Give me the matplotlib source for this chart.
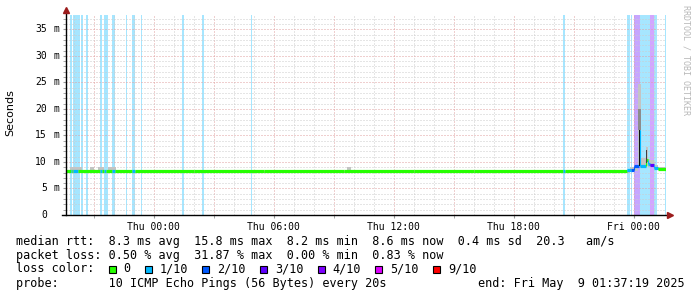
import matplotlib
matplotlib.use('Agg')
import matplotlib.pyplot as plt
import matplotlib.transforms as mtransforms
from matplotlib.patches import Rectangle

# smokeping graph, 30 hours, time in hours relative to Thu 00:00
t_start, t_end = -4.38, 25.62
y_top = 37.7

loss_colors = {0: '#26ff00', 1: '#00b8ff', 2: '#0059ff', 3: '#5e00ff',
               4: '#7e00ff', 5: '#dd00ff', 9: '#ff0000'}
legend_levels = [0, 1, 2, 3, 4, 5, 9]
legend_labels = ['0', '1/10', '2/10', '3/10', '4/10', '5/10', '9/10']

xtick_pos = [0, 6, 12, 18, 24]
xtick_labels = ['Thu 00:00', 'Thu 06:00', 'Thu 12:00', 'Thu 18:00', 'Fri 00:00']
ytick_pos = [0, 5, 10, 15, 20, 25, 30, 35]

# periods with packet loss (shaded full height)
loss_from = [-4.16, -4.02, -3.77, -3.61, -3.37, -2.69, -2.49, -2.36, -2.07, -1.40,
             -1.10, -0.64, 1.43, 2.43, 4.85, 20.45, 23.68, 23.85, 24.02, 24.10,
             24.30, 24.60, 24.80, 25.00, 25.57]
loss_to = [-4.08, -3.78, -3.70, -3.54, -3.30, -2.58, -2.38, -2.29, -1.93, -1.33,
           -0.92, -0.57, 1.50, 2.50, 4.92, 20.55, 23.80, 23.91, 24.10, 24.30,
           24.60, 24.80, 25.00, 25.15, 25.64]
loss_lvl = [1, 1, 1, 1, 1, 1, 1, 1, 1, 1,
            1, 1, 1, 1, 1, 1, 1, 1, 3, 3,
            1, 1, 4, 1, 1]

# median rtt (ms), step segments starting at med_t
med_t = [-4.38, -4.15, -4.07, -4.02, -3.78, -2.69, -2.58, -2.49, -2.38, -2.07,
         -1.93, -1.10, -0.92, 2.0, 5.5, 9.5, 13.0, 16.0, 20.45, 20.55,
         23.68, 23.85, 24.02, 24.25, 24.32, 24.60, 24.70, 24.80, 25.00, 25.20]
med_ms = [8.3, 8.3, 8.3, 8.3, 8.3, 8.3, 8.3, 8.3, 8.3, 8.3,
          8.3, 8.3, 8.3, 8.3, 8.2, 8.3, 8.3, 8.3, 8.3, 8.3,
          8.4, 8.5, 9.3, 16.1, 9.2, 10.4, 9.6, 9.5, 8.9, 8.7]
med_loss = [0, 1, 0, 1, 0, 1, 0, 1, 0, 1,
            0, 1, 0, 0, 0, 0, 0, 0, 1, 0,
            1, 2, 2, 1, 1, 0, 1, 3, 1, 0]

# smoke (spread of the single pings)
smoke_t = [-4.38, -4.2, -3.6, -3.2, -3.0, -2.8, -2.5, -2.3, -1.9, -1.7,
           9.65, 9.85, 23.8, 24.2, 24.35, 24.6, 24.7, 24.8, 25.0, 25.2]
smoke_hi = [8.3, 9.1, 8.3, 9.1, 8.3, 9.1, 8.3, 9.1, 8.3, 8.3,
            9.0, 8.3, 9.0, 24.6, 10.8, 12.8, 10.5, 10.3, 9.4, 9.0]
smoke_lo = [8.0, 8.0, 8.0, 8.0, 8.0, 8.0, 8.0, 8.0, 8.0, 8.0,
            8.0, 8.0, 8.2, 8.8, 8.9, 9.2, 9.0, 9.0, 8.6, 8.5]
# darker core of the smoke at the spikes
core_from = [24.22, 24.25, 24.62]
core_to = [24.35, 24.32, 24.68]
core_lo = [16.1, 9.2, 9.8]
core_hi = [20.0, 16.0, 12.3]
core_col = ['#8c8c8c', '#111111', '#404040']

mono = 'DejaVu Sans Mono'
W, H = 697, 297

fig = plt.figure(figsize=(W / 100, H / 100), dpi=100)
fig.patch.set_facecolor('white')
ax = fig.add_axes([66 / W, 82 / H, 600 / W, 200 / H])
ax.set_xlim(t_start, t_end)
ax.set_ylim(0, y_top)
for s in ax.spines.values():
    s.set_visible(False)

# loss shading
for a, b, l in zip(loss_from, loss_to, loss_lvl):
    ax.axvspan(a, b, color=loss_colors[l], alpha=0.35, lw=0, zorder=1)

# grid
dot = (0, (1, 2))
for h in range(-4, 26):
    c = '#e0a0a0' if h % 3 == 0 else '#cccccc'
    ax.axvline(h, color=c, lw=0.72, ls=dot, zorder=2)
for v in range(1, 38):
    c = '#e0a0a0' if v % 5 == 0 else '#cccccc'
    ax.axhline(v, color=c, lw=0.72, ls=dot, zorder=2)

# smoke
ax.fill_between(smoke_t + [t_end], smoke_lo + [smoke_lo[-1]], smoke_hi + [smoke_hi[-1]],
                step='post', color='#c4c4c4', lw=0, zorder=3)

# median line coloured by loss
ends = med_t[1:] + [t_end]
for i in range(len(med_t)):
    col = loss_colors[med_loss[i]]
    ax.hlines(med_ms[i], med_t[i], ends[i], colors=col, lw=2.3, zorder=4)
    if i > 0 and med_ms[i] != med_ms[i - 1]:
        ax.vlines(med_t[i], med_ms[i - 1], med_ms[i], colors=col, lw=0.8, zorder=4)

for a, b, lo, hi, c in zip(core_from, core_to, core_lo, core_hi, core_col):
    ax.fill_between([a, b], [lo, lo], [hi, hi], color=c, lw=0, zorder=4.5)

# axes lines and arrows
ax.plot([0, 0], [0, 1.02], transform=ax.transAxes, color='black', lw=1, clip_on=False, zorder=5)
ax.plot([-0.007, 1.003], [0, 0], transform=ax.transAxes, color='black', lw=1, clip_on=False, zorder=5)
ax.plot([0], [1.025], marker='^', ms=5, color='#9b1c1c', transform=ax.transAxes, clip_on=False, zorder=6)
ax.plot([1.007], [0], marker='>', ms=5, color='#9b1c1c', transform=ax.transAxes, clip_on=False, zorder=6)

# ticks
ax.set_xticks(xtick_pos, xtick_labels, fontfamily=mono, fontsize=7)
ax.set_xticks(list(range(-3, 26, 3)), minor=True)
ax.tick_params(axis='x', which='both', length=2, color='#999999', pad=3)
ax.set_yticks(ytick_pos, [''] * len(ytick_pos))
ax.set_yticks(list(range(0, 38)), minor=True)
ax.tick_params(axis='y', which='both', length=2, color='#999999')
tr = mtransforms.blended_transform_factory(fig.transFigure, ax.transData)
for v in ytick_pos:
    ax.text(47 / W, v, str(v), transform=tr, ha='right', va='center', fontfamily=mono, fontsize=7)
    if v > 0:
        ax.text(54 / W, v, 'm', transform=tr, ha='left', va='center', fontfamily=mono, fontsize=7)

fig.text(10 / W, 1 - 113 / H, 'Seconds', rotation=90, ha='center', va='center',
         fontfamily='DejaVu Sans', fontsize=8)
fig.text(686 / W, 1 - 5 / H, 'RRDTOOL / TOBI OETIKER', rotation=270, ha='center', va='top',
         fontfamily=mono, fontsize=6, color='#b8b8b8')

# legend block
fs = 8.5
x0 = 16.5 / W
fig.text(x0, 1 - 241 / H, 'median rtt:  8.3 ms avg  15.8 ms max  8.2 ms min  8.6 ms now  0.4 ms sd  20.3   am/s',
         va='center', fontfamily=mono, fontsize=fs)
fig.text(x0, 1 - 255 / H, 'packet loss: 0.50 % avg  31.87 % max  0.00 % min  0.83 % now',
         va='center', fontfamily=mono, fontsize=fs)
fig.text(x0, 1 - 269 / H, 'loss color:', va='center', fontfamily=mono, fontsize=fs)
fig.text(x0, 1 - 283 / H, 'probe:       10 ICMP Echo Pings (56 Bytes) every 20s',
         va='center', fontfamily=mono, fontsize=fs)
fig.text(478 / W, 1 - 283 / H, 'end: Fri May  9 01:37:19 2025',
         va='center', fontfamily=mono, fontsize=fs)

bx = 108.5
for lvl, lab in zip(legend_levels, legend_labels):
    fig.patches.append(Rectangle((bx / W, (H - 272.5) / H), 7 / W, 7 / H,
                                 transform=fig.transFigure, facecolor=loss_colors[lvl],
                                 edgecolor='black', lw=0.8))
    fig.text((bx + 15) / W, 1 - 269 / H, lab, va='center', fontfamily=mono, fontsize=fs)
    bx += 15 + (len(lab) + 2) * 7.1

fig.savefig('out.png', dpi=100, facecolor='white')
